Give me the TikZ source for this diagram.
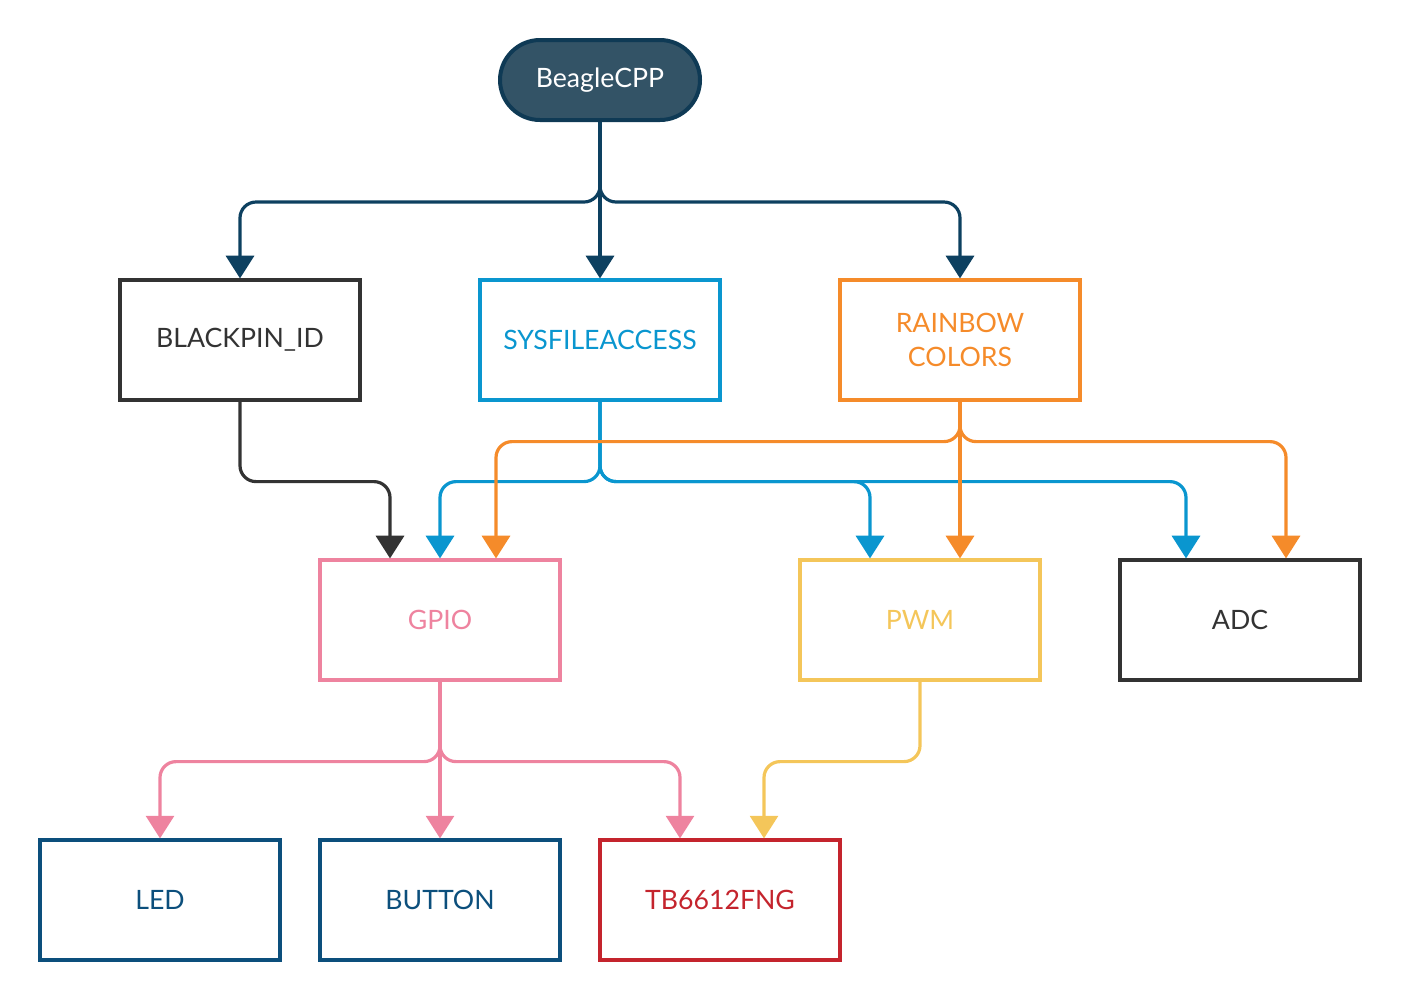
\documentclass[tikz,border=0pt]{standalone}
\usepackage{fontspec}
\setmainfont{Lato}
\usetikzlibrary{arrows.meta,calc}
\definecolor{navy}{HTML}{0D4060}
\definecolor{beaglefill}{HTML}{335366}
\definecolor{beagleline}{HTML}{0F3A55}
\definecolor{darkgray}{HTML}{333333}
\definecolor{sysblue}{HTML}{0A96CF}
\definecolor{rorange}{HTML}{F58B2A}
\definecolor{gpink}{HTML}{EE839F}
\definecolor{pyellow}{HTML}{F4C65A}
\definecolor{ledblue}{HTML}{0C4F7C}
\definecolor{tbred}{HTML}{C4242D}
\begin{document}
\begin{tikzpicture}[x=0.75pt,y=-0.75pt,
  box/.style={draw=#1,text=#1,line width=2.4pt,minimum width=180pt,minimum height=90pt,inner sep=0pt,align=center,font=\fontsize{20}{26}\selectfont},
  conn/.style={draw=#1,line width=2.4pt,rounded corners=12pt,-{Triangle[width=21pt,length=17pt]}}]
\useasboundingbox (0,0) rectangle (1401,1001);
\node[draw=beagleline,fill=beaglefill,text=white,line width=3pt,rounded corners=30pt,minimum width=150pt,minimum height=60pt,inner sep=0pt,font=\fontsize{20}{26}\selectfont] (beagle) at (600,80) {BeagleCPP};
\node[box=darkgray] (blackpin) at (240,340) {BLACKPIN\_ID};
\node[box=sysblue] (sys) at (600,340) {SYSFILEACCESS};
\node[box=rorange] (rainbow) at (960,340) {RAINBOW\\COLORS};
\node[box=gpink] (gpio) at (440,620) {GPIO};
\node[box=pyellow] (pwm) at (920,620) {PWM};
\node[box=darkgray] (adc) at (1240,620) {ADC};
\node[box=ledblue] (led) at (160,900) {LED};
\node[box=ledblue] (button) at (440,900) {BUTTON};
\node[box=tbred] (tb) at (720,900) {TB6612FNG};
% top level
\draw[conn=navy] (beagle.south) -- ++(0,80) -| (blackpin.north);
\draw[conn=navy] (beagle.south) -- (sys.north);
\draw[conn=navy] (beagle.south) -- ++(0,80) -| (rainbow.north);
% blackpin
\draw[conn=darkgray] (blackpin.south) -- ++(0,80) -| ($(gpio.north)+(-50,0)$);
% sysfileaccess
\draw[conn=sysblue] (sys.south) -- ++(0,80) -| (gpio.north);
\draw[conn=sysblue] (sys.south) -- ++(0,80) -| ($(pwm.north)+(-50,0)$);
\draw[conn=sysblue] (sys.south) -- ++(0,80) -| ($(adc.north)+(-54,0)$);
% rainbow
\draw[conn=rorange] (rainbow.south) -- ++(0,40) -| ($(gpio.north)+(56,0)$);
\draw[conn=rorange] (rainbow.south) -- (rainbow.south |- pwm.north);
\draw[conn=rorange] (rainbow.south) -- ++(0,40) -| ($(adc.north)+(46,0)$);
% gpio
\draw[conn=gpink] (gpio.south) -- ++(0,80) -| (led.north);
\draw[conn=gpink] (gpio.south) -- (button.north);
\draw[conn=gpink] (gpio.south) -- ++(0,80) -| ($(tb.north)+(-40,0)$);
% pwm
\draw[conn=pyellow] (pwm.south) -- ++(0,80) -| ($(tb.north)+(44,0)$);
\end{tikzpicture}
\end{document}
